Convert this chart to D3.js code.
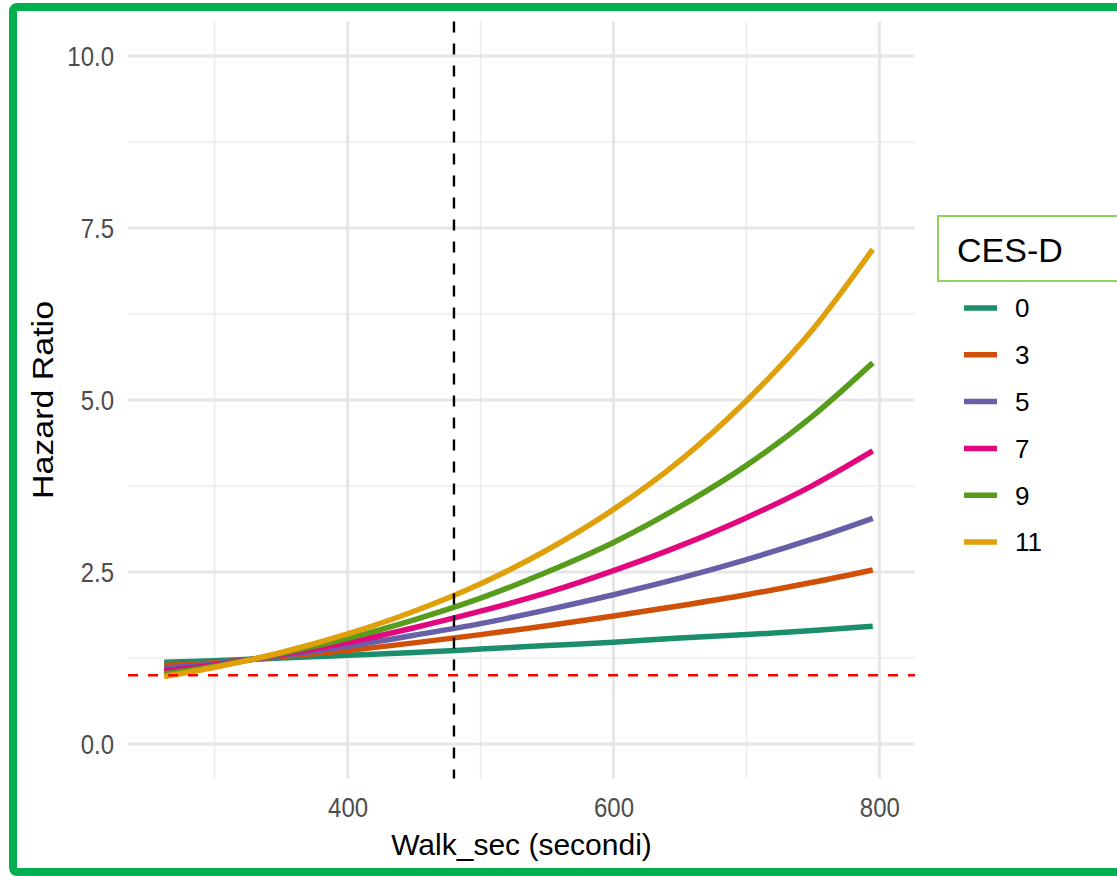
<!DOCTYPE html>
<html>
<head>
<meta charset="utf-8">
<script src="https://cdn.jsdelivr.net/npm/d3@7"></script>
<style>
  html, body { margin: 0; padding: 0; background: #fff; }
  svg { display: block; }
  text { font-family: "Liberation Sans", Arial, Helvetica, sans-serif; }
</style>
</head>
<body>
<svg id="chart" width="1117" height="876"></svg>
<script>
// ---- data ----
const walkSec = [262, 300, 350, 400, 450, 500, 550, 600, 650, 700, 750, 795];
const cesdLevels = ["0", "3", "5", "7", "9", "11"];
const hr0  = [1.19, 1.21, 1.25, 1.29, 1.33, 1.38, 1.43, 1.48, 1.54, 1.59, 1.65, 1.71];
const hr3  = [1.14, 1.18, 1.27, 1.36, 1.47, 1.59, 1.72, 1.86, 2.01, 2.17, 2.35, 2.53];
const hr5  = [1.10, 1.165, 1.285, 1.42, 1.58, 1.75, 1.95, 2.17, 2.41, 2.68, 2.98, 3.28];
const hr7  = [1.06, 1.15, 1.30, 1.475, 1.69, 1.93, 2.20, 2.52, 2.88, 3.29, 3.76, 4.26];
const hr9  = [1.02, 1.13, 1.315, 1.535, 1.805, 2.12, 2.50, 2.93, 3.45, 4.05, 4.77, 5.54];
const hr11 = [0.98, 1.115, 1.33, 1.60, 1.93, 2.33, 2.82, 3.41, 4.12, 4.99, 6.03, 7.19];
const seriesValues = [hr0, hr3, hr5, hr7, hr9, hr11];
const xTicks = [400, 600, 800];
const xMinor = [300, 500, 700];
const yTicks = [0, 2.5, 5, 7.5, 10];
const yMinor = [1.25, 3.75, 6.25, 8.75];
const refHR = 1;
const refWalk = 480;
const colors = ["#1b8f6b", "#d05008", "#675fa8", "#e2077e", "#589c1c", "#e0a00a"];

// ---- layout ----
const svg = d3.select("#chart");
const panel = { left: 128, right: 915, top: 21.6, bottom: 778.4 };

const x = d3.scaleLinear().domain([234.8, 826.8]).range([panel.left, panel.right]);
const y = d3.scaleLinear().domain([-0.5, 10.5]).range([panel.bottom, panel.top]);

// frame border
svg.append("rect")
  .attr("x", 13).attr("y", 7).attr("width", 1130).attr("height", 865)
  .attr("rx", 4)
  .attr("fill", "none").attr("stroke", "#00b050").attr("stroke-width", 8);

const g = svg.append("g");

// minor grid
g.selectAll(".vminor").data(xMinor).enter().append("line")
  .attr("x1", d => x(d)).attr("x2", d => x(d))
  .attr("y1", panel.top).attr("y2", panel.bottom)
  .attr("stroke", "#ececec").attr("stroke-width", 1.6);
g.selectAll(".hminor").data(yMinor).enter().append("line")
  .attr("x1", panel.left).attr("x2", panel.right)
  .attr("y1", d => y(d)).attr("y2", d => y(d))
  .attr("stroke", "#ececec").attr("stroke-width", 1.6);
// major grid
g.selectAll(".vmajor").data(xTicks).enter().append("line")
  .attr("x1", d => x(d)).attr("x2", d => x(d))
  .attr("y1", panel.top).attr("y2", panel.bottom)
  .attr("stroke", "#e6e6e6").attr("stroke-width", 3);
g.selectAll(".hmajor").data(yTicks).enter().append("line")
  .attr("x1", panel.left).attr("x2", panel.right)
  .attr("y1", d => y(d)).attr("y2", d => y(d))
  .attr("stroke", "#e6e6e6").attr("stroke-width", 3);

// axes (tick labels only)
const xAxis = d3.axisBottom(x).tickValues(xTicks).tickSize(0).tickPadding(0).tickFormat(d3.format("d"));
const xa = svg.append("g").attr("transform", `translate(0, 797)`).call(xAxis);
xa.select(".domain").remove();
xa.selectAll("text").attr("font-size", 24).attr("fill", "#4d4d4d")
  .attr("dy", "0.71em").attr("transform", "scale(1,1.16)")
  .style("font-family", '"Liberation Sans", Arial, sans-serif');

const yAxis = d3.axisLeft(y).tickValues(yTicks).tickSize(0).tickPadding(0).tickFormat(d3.format(".1f"));
const ya = svg.append("g").attr("transform", `translate(114, 0)`).call(yAxis);
ya.select(".domain").remove();
ya.selectAll("text").attr("font-size", 24).attr("fill", "#4d4d4d")
  .attr("dy", "0.35em").attr("transform", "scale(1,1.16)")
  .style("font-family", '"Liberation Sans", Arial, sans-serif');

// axis titles
svg.append("text")
  .attr("x", (panel.left + panel.right) / 2).attr("y", 855)
  .attr("text-anchor", "middle").attr("font-size", 30).attr("fill", "#000")
  .text("Walk_sec (secondi)");
svg.append("text")
  .attr("transform", `translate(53, ${(panel.top + panel.bottom) / 2}) rotate(-90)`)
  .attr("text-anchor", "middle").attr("font-size", 30).attr("fill", "#000")
  .attr("textLength", 198).attr("lengthAdjust", "spacingAndGlyphs")
  .text("Hazard Ratio");

// series lines
const line = d3.line()
  .x((d, i) => x(walkSec[i]))
  .y(d => y(d))
  .curve(d3.curveMonotoneX);

g.selectAll(".series").data(seriesValues).enter().append("path")
  .attr("d", d => line(d))
  .attr("fill", "none")
  .attr("stroke", (d, i) => colors[i])
  .attr("stroke-width", 5.5)
  .attr("stroke-linecap", "butt");

// reference lines
g.append("line")
  .attr("x1", panel.left).attr("x2", panel.right)
  .attr("y1", y(refHR)).attr("y2", y(refHR))
  .attr("stroke", "#ff0000").attr("stroke-width", 2.6)
  .attr("stroke-dasharray", "10,10");
g.append("line")
  .attr("x1", x(refWalk)).attr("x2", x(refWalk))
  .attr("y1", panel.top).attr("y2", panel.bottom)
  .attr("stroke", "#000").attr("stroke-width", 2.4)
  .attr("stroke-dasharray", "11,11");

// legend
const lg = svg.append("g");
lg.append("rect")
  .attr("x", 938).attr("y", 216).attr("width", 200).attr("height", 65)
  .attr("fill", "#fff").attr("stroke", "#8fd35a").attr("stroke-width", 2);
lg.append("text")
  .attr("x", 957).attr("y", 262).attr("font-size", 34).attr("fill", "#000")
  .text("CES-D");

const keyY = d3.scalePoint().domain(cesdLevels).range([308, 542]);
const items = lg.selectAll(".item").data(cesdLevels).enter().append("g");
items.append("line")
  .attr("x1", 964).attr("x2", 997)
  .attr("y1", d => keyY(d)).attr("y2", d => keyY(d))
  .attr("stroke", (d, i) => colors[i]).attr("stroke-width", 5.5);
items.append("text")
  .attr("x", 1015).attr("y", d => keyY(d)).attr("dy", "0.36em")
  .attr("font-size", 26).attr("fill", "#000")
  .text(d => d);
</script>
</body>
</html>
